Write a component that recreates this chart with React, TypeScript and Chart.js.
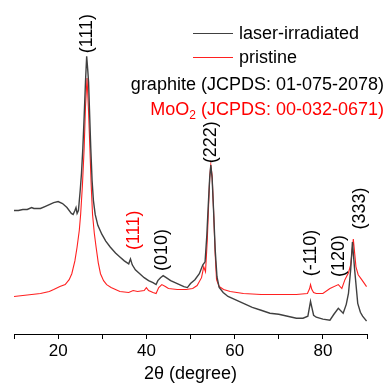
import React, { useEffect, useRef } from "react";
import { Chart, registerables } from "chart.js";

Chart.register(...registerables);

// ---- data (2θ in degrees, intensity in arbitrary units) ----
const seriesLabels = ["laser-irradiated", "pristine"];
const seriesColors = ["#404040", "#ff2020"];

const laserTheta = [
  10, 11, 12, 13, 14, 14.5, 15, 16, 17, 18, 19, 20, 21, 22, 23, 23.4, 23.8, 24.05, 24.3, 24.6, 25, 25.3, 25.6, 25.9,
  26.2, 26.47, 26.7, 26.9, 27.1, 27.4, 27.7, 28, 28.4, 29, 29.9, 30.8, 31.8, 33, 34, 35, 36, 36.4, 36.8, 37.5, 38.5,
  39.5, 40.5, 41.5, 42.2, 42.6, 43.2, 43.8, 44.5, 45.5, 46.5, 47.5, 48.5, 49.3, 50, 51, 52, 52.8, 53.3, 53.7, 54.0,
  54.35, 54.6, 54.9, 55.2, 55.6, 56, 56.5, 57.4, 58.5, 60, 62, 64, 66, 68, 70, 72, 74, 75.5, 76.6, 77, 77.2, 77.5,
  77.9, 78.5, 80, 81.6, 82.5, 83.5, 84.6, 85.3, 85.8, 86.3, 86.7, 87.2, 87.9, 88.5, 89, 89.9,
];
const laserIntensity = [
  125, 125, 126, 126, 128, 127, 127, 127, 129, 131, 133, 134, 132, 128, 122, 121, 125, 128, 122, 125, 145, 163, 188,
  220, 255, 281, 268, 255, 228, 188, 155, 135, 121, 110, 101, 94, 88, 82, 78, 74, 71, 76, 70, 65, 61, 57, 54, 52, 50,
  54, 57, 59, 57, 54, 52, 50, 48, 47, 51, 55, 61, 70, 73, 100, 128, 158, 171, 158, 128, 85, 58, 47, 42, 38, 35, 31, 27,
  24, 21, 20, 18, 16, 16, 18, 28, 33, 27, 19, 17, 15, 14, 20, 26, 21, 30, 41, 65, 93, 65, 31, 22, 18, 13,
];

const pristineTheta = [
  10, 12, 14, 16, 18, 19, 20.4, 21.6, 22.5, 23.1, 23.8, 24.3, 24.8, 25.1, 25.5, 25.9, 26.2, 26.55, 26.9, 27.2, 27.5,
  27.8, 28.2, 28.6, 29.1, 29.6, 30.3, 31, 32, 34, 36, 37, 38, 39.5, 40, 40.5, 41.5, 42.2, 42.8, 43.5, 44.3, 45, 47, 49,
  50.5, 51.5, 52.5, 53, 53.4, 53.8, 54.1, 54.35, 54.6, 54.9, 55.2, 55.6, 55.9, 56.5, 57.5, 59, 62, 66, 70, 74, 76.5,
  77, 77.2, 77.5, 77.9, 78.5, 80, 81.6, 83.5, 84.3, 85, 85.8, 86.3, 86.9, 87.5, 88, 88.8, 89.9,
];
const pristineIntensity = [
  38, 39, 40, 41, 43, 45, 48, 50, 55, 61, 74, 88, 105, 121, 150, 188, 230, 259, 225, 188, 150, 121, 102, 88, 72, 61,
  54, 50, 47, 43, 42, 44, 43, 44, 47, 44, 42, 41, 47, 50, 48, 46, 45, 45, 46, 49, 57, 68, 63, 95, 130, 158, 171, 160,
  128, 80, 55, 48, 45, 43, 41, 40, 40, 40, 41, 46, 50, 45, 42, 41, 41, 46, 50, 46, 55, 62, 70, 96, 68, 60, 55, 48,
];

const xTickValues = [20, 40, 60, 80];

// peak annotations: label, 2θ position, intensity position, series index for colour
const peakLabels = ["(111)", "(111)", "(010)", "(222)", "(-110)", "(120)", "(333)"];
const peakTheta = [26.4, 37.0, 43.3, 54.4, 77.2, 83.5, 88.1];
const peakLevel = [304, 105, 85, 194, 82, 79, 127];
const peakSeries = [0, 1, 0, 0, 0, 0, 0];

const phaseLabels = ["graphite (JCPDS: 01-075-2078)", "MoO|2| (JCPDS: 00-032-0671)"];
const phaseColors = ["#000000", "#ff0000"];

const FONT = "'Liberation Sans', Arial, sans-serif";

const overlayPlugin = {
  id: "overlay",
  afterDatasetsDraw(chart: any) {
    const ctx = chart.ctx as CanvasRenderingContext2D;
    const xs = chart.scales.x;
    const ys = chart.scales.y;
    ctx.save();
    // peak labels (rotated)
    ctx.font = `18px ${FONT}`;
    ctx.textAlign = "center";
    ctx.textBaseline = "middle";
    peakLabels.forEach((lab, i) => {
      const px = xs.getPixelForValue(peakTheta[i]);
      const py = ys.getPixelForValue(peakLevel[i]);
      ctx.save();
      ctx.translate(px, py);
      ctx.rotate(-Math.PI / 2);
      ctx.fillStyle = peakSeries[i] === 1 ? "#ff0000" : "#000000";
      ctx.fillText(lab, 0, 1);
      ctx.restore();
    });

    // legend
    const legX1 = 193, legX2 = 233, legTextX = 239;
    const legY = [33, 57];
    chart.data.datasets.forEach((ds: any, i: number) => {
      ctx.strokeStyle = ds.borderColor;
      ctx.lineWidth = 1;
      ctx.beginPath();
      ctx.moveTo(legX1, legY[i] + 0.5);
      ctx.lineTo(legX2, legY[i] + 0.5);
      ctx.stroke();
      ctx.fillStyle = "#000";
      ctx.textAlign = "left";
      ctx.textBaseline = "middle";
      ctx.font = `18px ${FONT}`;
      ctx.fillText(ds.label, legTextX, legY[i] + 1);
    });

    // phase reference lines (right aligned, with subscript support)
    const rightX = 384;
    const phaseY = [84, 109];
    phaseLabels.forEach((txt, i) => {
      const parts = txt.split("|");
      const sizes = parts.map((_, k) => (k % 2 === 1 ? 12 : 18));
      let total = 0;
      parts.forEach((p, k) => {
        ctx.font = `${sizes[k]}px ${FONT}`;
        total += ctx.measureText(p).width;
      });
      let x = rightX - total;
      ctx.fillStyle = phaseColors[i];
      ctx.textAlign = "left";
      ctx.textBaseline = "alphabetic";
      parts.forEach((p, k) => {
        ctx.font = `${sizes[k]}px ${FONT}`;
        const base = phaseY[i] + 6 + (k % 2 === 1 ? 4 : 0);
        ctx.fillText(p, x, base);
        x += ctx.measureText(p).width;
      });
    });
    ctx.restore();
  },
};

export default function App() {
  const ref = useRef<HTMLCanvasElement>(null);
  useEffect(() => {
    if (!ref.current) return;
    const chart = new Chart(ref.current, {
      type: "line",
      data: {
        datasets: [
          {
            label: seriesLabels[0],
            data: laserTheta.map((t, i) => ({ x: t, y: laserIntensity[i] })),
            borderColor: seriesColors[0],
            borderWidth: 1.4,
            pointRadius: 0,
            tension: 0,
            fill: false,
          },
          {
            label: seriesLabels[1],
            data: pristineTheta.map((t, i) => ({ x: t, y: pristineIntensity[i] })),
            borderColor: seriesColors[1],
            borderWidth: 1.1,
            pointRadius: 0,
            tension: 0,
            fill: false,
          },
        ],
      },
      options: {
        animation: false,
        responsive: false,
        maintainAspectRatio: false,
        layout: { padding: { left: 14, right: 22, top: 0, bottom: 0 } },
        plugins: { legend: { display: false }, tooltip: { enabled: false } },
        scales: {
          x: {
            type: "linear",
            min: 10,
            max: 90,
            afterBuildTicks: (axis: any) => {
              const t = [];
              for (let v = 10; v <= 90; v += 10) t.push({ value: v });
              axis.ticks = t;
            },
            ticks: {
              autoSkip: false,
              maxRotation: 0,
              padding: 2,
              color: "#000",
              font: { family: FONT, size: 17 },
              callback: (v: any) => (xTickValues.includes(Number(v)) ? String(v) : ""),
            },
            grid: { drawOnChartArea: false, drawTicks: true, tickLength: 5, color: "#000", lineWidth: 1 },
            border: { display: true, color: "#000", width: 1 },
            title: {
              display: true,
              text: "2θ (degree)",
              color: "#000",
              font: { family: FONT, size: 18 },
              padding: { top: 0, bottom: 0 },
            },
          },
          y: { display: false, min: 0, max: 338 },
        },
      },
      plugins: [overlayPlugin],
    });
    return () => chart.destroy();
  }, []);
  return (
    <div style={{ position: "absolute", left: 0, top: 0, width: 389, height: 385, background: "#fff" }}>
      <canvas ref={ref} width={389} height={385} style={{ display: "block" }} />
    </div>
  );
}
